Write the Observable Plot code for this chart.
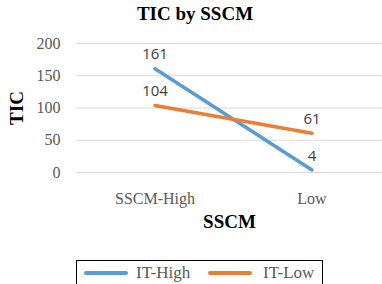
<!DOCTYPE html>
<html><head><meta charset="utf-8">
<script src="https://cdn.jsdelivr.net/npm/d3@7"></script>
<script src="https://cdn.jsdelivr.net/npm/@observablehq/plot@0.6"></script>
<style>
html,body{margin:0;padding:0;background:#fff;overflow:hidden}
#wrap{position:relative;width:382px;height:284px;overflow:hidden}
#title{position:absolute;left:0;top:3px;width:390px;height:34px;line-height:34px;text-align:center;font:bold 19px "Liberation Serif",serif;color:#000}
#chart{position:absolute;left:0;top:34px}
#legend{position:absolute;left:76px;top:260px;width:245px;height:40px;border:1px solid #000;font:17px "Liberation Serif",serif;color:#595959}
.sw{position:absolute;height:4px;border-radius:2px;top:10px;width:44px}
.lt{position:absolute;top:0;line-height:24px}
</style></head>
<body><div id="wrap"><div id="title">TIC by SSCM</div><div id="chart"></div><div id="legend"></div></div>
<script>
const categories = ["SSCM-High", "Low"];
const seriesNames = ["IT-High", "IT-Low"];
const itHigh = [161, 4];
const itLow = [104, 61];
const yTicks = [0, 50, 100, 150, 200];
const colors = ["#5B9BD5", "#ED7D31"];

const data = [];
[itHigh, itLow].forEach((vals, s) => vals.forEach((v, i) => data.push({series: seriesNames[s], cat: categories[i], value: v})));

const chart = Plot.plot({
  width: 382, height: 210,
  marginLeft: 76, marginRight: 0, marginTop: 9, marginBottom: 72,
  style: {fontFamily: "'Liberation Serif', serif", background: "#fff"},
  x: {type: "band", domain: categories, range: [76, 390], padding: 0},
  y: {domain: [0, 200]},
  color: {domain: seriesNames, range: colors},
  marks: [
    Plot.ruleY(yTicks, {stroke: "#d9d9d9", strokeWidth: 1}),
    Plot.axisY({ticks: yTicks, tickSize: 0, tickPadding: 16, fontSize: 16, color: "#595959", fontFamily: "'Liberation Serif', serif", label: "TIC", labelAnchor: "center", labelArrow: "none", labelOffset: 67}),
    Plot.axisX({tickSize: 0, tickPadding: 20, fontSize: 16, color: "#595959", label: "SSCM", labelAnchor: "center", labelArrow: "none", labelOffset: 55}),
    Plot.line(data, {x: "cat", y: "value", z: "series", stroke: "series", strokeWidth: 3.5, strokeLinecap: "round"}),
    Plot.text(data, {x: "cat", y: "value", text: d => String(d.value), dy: -14, fill: "#404040", fontSize: 15, fontFamily: "'Open Sans', sans-serif"})
  ]
});
// bold axis titles
chart.querySelectorAll("[aria-label='y-axis label'] text, [aria-label='x-axis label'] text").forEach(t => {
  t.setAttribute("font-weight", "bold"); t.setAttribute("fill", "#000"); t.setAttribute("font-size", "19");
});
document.getElementById("chart").appendChild(chart);

const legend = document.getElementById("legend");
const pos = [[7, 59], [131, 186]];
seriesNames.forEach((n, i) => {
  const sw = document.createElement("div"); sw.className = "sw"; sw.style.left = pos[i][0] + "px"; sw.style.background = colors[i];
  const lt = document.createElement("div"); lt.className = "lt"; lt.style.left = pos[i][1] + "px"; lt.textContent = n;
  legend.appendChild(sw); legend.appendChild(lt);
});
</script></body></html>
